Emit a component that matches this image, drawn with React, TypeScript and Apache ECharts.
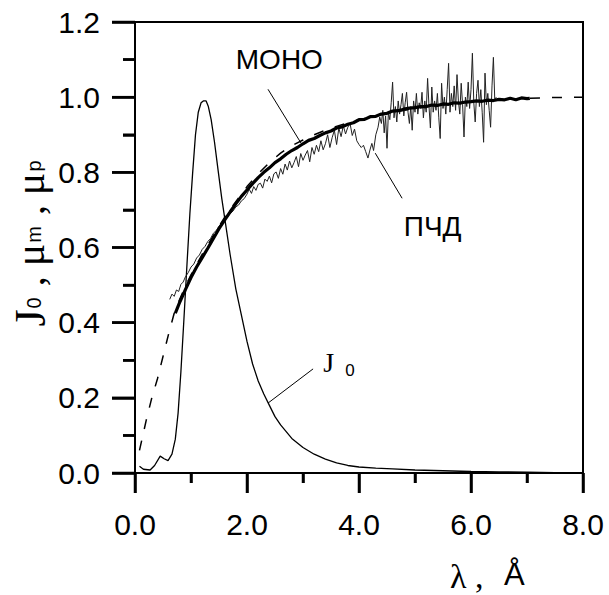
import React, { useEffect, useRef } from "react";
import * as echarts from "echarts";

// ---- Data ----
const xTickLabels = ["0.0", "2.0", "4.0", "6.0", "8.0"];
const yTickLabels = ["0.0", "0.2", "0.4", "0.6", "0.8", "1.0", "1.2"];
const xTickValues = [0, 1, 2, 3, 4, 5, 6, 7, 8];
const yTickValues = [0, 0.1, 0.2, 0.3, 0.4, 0.5, 0.6, 0.7, 0.8, 0.9, 1.0, 1.1, 1.2];

// J0 spectrum
const j0X = [0.08, 0.15, 0.27, 0.35, 0.45, 0.52, 0.59, 0.66, 0.72, 0.77, 0.82, 0.87, 0.93, 0.98, 1.03, 1.08, 1.13, 1.18, 1.22, 1.27, 1.31, 1.36, 1.42, 1.48, 1.55, 1.62, 1.7, 1.8, 1.9, 2.0, 2.1, 2.2, 2.3, 2.4, 2.5, 2.6, 2.7, 2.8, 3.0, 3.2, 3.4, 3.6, 3.8, 4.0, 4.3, 4.6, 5.0, 5.5, 6.0, 6.5, 7.0, 7.5, 8.0];
const j0Y = [0.018, 0.01, 0.008, 0.02, 0.045, 0.038, 0.033, 0.05, 0.09, 0.16, 0.27, 0.4, 0.56, 0.69, 0.8, 0.9, 0.96, 0.985, 0.99, 0.99, 0.975, 0.94, 0.88, 0.81, 0.73, 0.66, 0.58, 0.49, 0.42, 0.35, 0.29, 0.245, 0.21, 0.18, 0.15, 0.128, 0.11, 0.092, 0.068, 0.05, 0.037, 0.027, 0.02, 0.016, 0.013, 0.011, 0.008, 0.006, 0.004, 0.003, 0.002, 0.001, 0.001];

// theoretical mu (dashed)
const muX = [0.08, 0.2, 0.3, 0.4, 0.5, 0.6, 0.7, 0.8, 0.9, 1.0, 1.2, 1.4, 1.6, 1.8, 2.0, 2.2, 2.4, 2.6, 2.8, 3.0, 3.2, 3.5, 4.0, 4.5, 5.0, 5.5, 6.0, 6.5, 7.0, 7.5, 8.0];
const muY = [0.06, 0.14, 0.2, 0.25, 0.31, 0.37, 0.425, 0.463, 0.497, 0.527, 0.582, 0.632, 0.68, 0.722, 0.762, 0.796, 0.826, 0.851, 0.871, 0.886, 0.9, 0.918, 0.94, 0.957, 0.97, 0.98, 0.988, 0.994, 0.997, 0.999, 1.0];

// MONO (thick)
const monoX = [0.72, 0.76, 0.8, 0.9, 1.0, 1.1, 1.2, 1.3, 1.4, 1.5, 1.6, 1.7, 1.8, 1.9, 2.0, 2.1, 2.2, 2.3, 2.4, 2.5, 2.6, 2.7, 2.8, 2.9, 3.0, 3.1, 3.2, 3.3, 3.4, 3.5, 3.6, 3.7, 3.8, 3.9, 4.0, 4.1, 4.2, 4.3, 4.4, 4.5, 4.6, 4.7, 4.8, 4.9, 5.0, 5.1, 5.2, 5.3, 5.4, 5.5, 5.6, 5.7, 5.8, 5.9, 6.0, 6.1, 6.2, 6.3, 6.4, 6.5, 6.6, 6.7, 6.8, 6.9, 7.0, 7.05];
const monoY = [0.425, 0.44, 0.455, 0.488, 0.52, 0.548, 0.573, 0.598, 0.624, 0.65, 0.673, 0.695, 0.716, 0.736, 0.753, 0.77, 0.786, 0.8, 0.812, 0.826, 0.836, 0.848, 0.858, 0.866, 0.876, 0.885, 0.89, 0.898, 0.905, 0.91, 0.918, 0.921, 0.928, 0.932, 0.94, 0.941, 0.948, 0.949, 0.955, 0.957, 0.963, 0.964, 0.968, 0.971, 0.972, 0.975, 0.975, 0.979, 0.978, 0.982, 0.981, 0.985, 0.984, 0.987, 0.988, 0.99, 0.989, 0.992, 0.991, 0.994, 0.993, 0.997, 0.993, 0.998, 0.996, 0.997];

// ПЧД (thin noisy)
const pchdX = [0.62, 0.66, 0.7, 0.74, 0.78, 0.82, 0.86, 0.9, 0.95, 1.0, 1.05, 1.1, 1.15, 1.2, 1.25, 1.3, 1.35, 1.4, 1.45, 1.5, 1.55, 1.6, 1.65, 1.7, 1.75, 1.8, 1.85, 1.9, 1.95,
  2.0, 2.04, 2.08, 2.12, 2.16, 2.2, 2.24, 2.28, 2.32, 2.36, 2.4, 2.44, 2.48, 2.52, 2.56, 2.6, 2.64, 2.68, 2.72, 2.76, 2.8, 2.84, 2.88, 2.92, 2.96, 3.0, 3.04, 3.08, 3.12, 3.16, 3.2, 3.24, 3.28, 3.32, 3.36, 3.4, 3.44, 3.48, 3.52, 3.56, 3.6, 3.64, 3.68, 3.72, 3.76, 3.8, 3.84, 3.88, 3.92, 3.96, 4.0, 4.04, 4.08, 4.12, 4.16, 4.2, 4.23, 4.26, 4.3, 4.34, 4.37,
  4.4, 4.425, 4.45, 4.475, 4.5, 4.525, 4.55, 4.575, 4.6, 4.625, 4.65, 4.675, 4.7, 4.725, 4.75, 4.775, 4.8, 4.825, 4.85, 4.875, 4.9, 4.925, 4.95, 4.975, 5.0, 5.025, 5.05, 5.075, 5.1, 5.125, 5.15, 5.175, 5.2, 5.225, 5.25, 5.275, 5.3, 5.325, 5.35, 5.375, 5.4, 5.425, 5.45, 5.475, 5.5, 5.525, 5.55, 5.575, 5.6, 5.625, 5.65, 5.675, 5.7, 5.725, 5.75, 5.775, 5.8, 5.825, 5.85, 5.875, 5.9, 5.925, 5.95, 5.975, 6.0, 6.025, 6.05, 6.075, 6.1, 6.125, 6.15, 6.175, 6.2, 6.225, 6.25, 6.275, 6.3, 6.325, 6.35, 6.375, 6.4, 6.425, 6.45];
const pchdY = [0.462, 0.476, 0.47, 0.487, 0.483, 0.502, 0.508, 0.522, 0.533, 0.548, 0.556, 0.572, 0.58, 0.595, 0.603, 0.616, 0.624, 0.638, 0.645, 0.657, 0.664, 0.672, 0.681, 0.69, 0.697, 0.708, 0.713, 0.724, 0.73,
  0.742, 0.755, 0.744, 0.762, 0.752, 0.768, 0.771, 0.758, 0.782, 0.776, 0.79, 0.772, 0.796, 0.801, 0.784, 0.81, 0.795, 0.822, 0.806, 0.83, 0.812, 0.826, 0.842, 0.815, 0.85, 0.832, 0.846, 0.858, 0.828, 0.866, 0.848, 0.872, 0.855, 0.884, 0.86, 0.876, 0.9, 0.866, 0.892, 0.912, 0.874, 0.918, 0.895, 0.924, 0.902, 0.92, 0.93, 0.898, 0.915, 0.884, 0.874, 0.866, 0.872, 0.855, 0.838, 0.862, 0.877, 0.858, 0.9, 0.92, 0.947,
  0.93, 0.965, 0.905, 0.95, 0.864, 0.96, 0.94, 0.985, 1.04, 0.945, 0.975, 0.934, 0.99, 0.955, 0.98, 1.01, 0.95, 0.985, 1.013, 0.96, 0.93, 0.975, 0.912, 0.99, 0.96, 1.01, 0.955, 0.985, 0.97, 1.013, 0.945, 0.99, 0.96, 1.05, 0.975, 0.918, 1.027, 0.96, 0.99, 0.965, 1.01, 0.945, 0.89, 1.037, 0.97, 1.0, 0.955, 1.02, 1.09, 0.96, 1.01, 0.975, 1.03, 0.965, 1.06, 0.99, 0.955, 1.037, 0.98, 0.894, 1.0, 0.975, 1.04, 0.97, 1.02, 1.117, 0.985, 0.934, 1.01, 1.045, 0.975, 1.02, 0.96, 0.88, 1.064, 0.98, 1.01, 0.965, 0.92, 1.03, 1.106, 0.99, 1.0];

const pairs = (xs: number[], ys: number[]) => xs.map((x, i) => [x, ys[i]]);

const SANS = "'Liberation Sans', Arial, Helvetica, sans-serif";
const SERIF = "'Liberation Serif', 'Times New Roman', serif";

export default function App() {
  const ref = useRef<HTMLDivElement>(null);
  useEffect(() => {
    if (!ref.current) return;
    const chart = echarts.init(ref.current, undefined, { renderer: "svg" });
    chart.setOption({
      animation: false,
      backgroundColor: "#fff",
      grid: { left: 135, right: 26, top: 22, bottom: 122, show: true, borderColor: "#000", borderWidth: 2 },
      xAxis: {
        type: "value",
        min: 0, max: 8, interval: 2,
        splitLine: { show: false },
        axisLine: { show: true, lineStyle: { color: "#000", width: 2 } },
        axisTick: { show: true, length: 20, lineStyle: { color: "#000", width: 2.5 } },
        minorTick: { show: true, splitNumber: 2, length: 10, lineStyle: { color: "#000", width: 2.5 } },
        axisLabel: {
          margin: 36, fontSize: 30, fontFamily: SANS, color: "#000",
          formatter: (v: number) => xTickLabels[Math.round(v / 2)] ?? "",
        },
      },
      yAxis: {
        type: "value",
        min: 0, max: 1.2, interval: 0.2,
        splitLine: { show: false },
        axisLine: { show: true, lineStyle: { color: "#000", width: 2 } },
        axisTick: { show: true, length: 23, lineStyle: { color: "#000", width: 2.5 } },
        minorTick: { show: true, splitNumber: 2, length: 12, lineStyle: { color: "#000", width: 2.5 } },
        axisLabel: {
          margin: 35, fontSize: 30, fontFamily: SANS, color: "#000",
          formatter: (v: number) => yTickLabels[Math.round(v / 0.2)] ?? "",
        },
      },
      series: [
        { type: "line", name: "J0", data: pairs(j0X, j0Y), showSymbol: false, smooth: false, lineStyle: { color: "#000", width: 1.3 }, z: 3 },
        { type: "line", name: "mu", data: pairs(muX, muY), showSymbol: false, lineStyle: { color: "#000", width: 1.5, type: [10, 12] }, z: 2 },
        { type: "line", name: "ПЧД", data: pairs(pchdX, pchdY), showSymbol: false, lineStyle: { color: "#222", width: 1 }, z: 4 },
        { type: "line", name: "МОНО", data: pairs(monoX, monoY), showSymbol: false, lineStyle: { color: "#000", width: 3.2 }, z: 5 },
      ],
    });

    const p = (x: number, y: number) => chart.convertToPixel({ xAxisIndex: 0, yAxisIndex: 0 }, [x, y]) as number[];
    const seg = (x1: number, y1: number, x2: number, y2: number, w: number) =>
      ({ type: "line", shape: { x1, y1, x2, y2 }, style: { stroke: "#000", lineWidth: w }, z: 10 });
    const leader = (a: number[], b: number[]) => {
      const s = p(a[0], a[1]);
      const e = p(b[0], b[1]);
      return seg(s[0], s[1], e[0], e[1], 1);
    };
    // outward ticks on both axes, positioned through the axis scales
    const origin = p(0, 0);
    const xTickMarks = xTickValues.map((v) => {
      const q = p(v, 0);
      const len = v % 2 === 0 ? 20 : 10;
      return seg(q[0], origin[1], q[0], origin[1] + len, 2.5);
    });
    const yTickMarks = yTickValues.map((v, i) => {
      const q = p(0, v);
      const len = i % 2 === 0 ? 23 : 12;
      return seg(origin[0] - len, q[1], origin[0], q[1], 2.5);
    });

    const monoLbl = p(1.8, 1.1);
    const pchdLbl = p(4.8, 0.656);
    const j0Lbl = p(3.36, 0.294);
    chart.setOption({
      graphic: [
        ...xTickMarks,
        ...yTickMarks,
        leader([2.375, 1.021], [2.964, 0.878]),
        leader([4.77, 0.731], [4.29, 0.851]),
        leader([2.375, 0.186], [3.18, 0.277]),
        { type: "text", x: monoLbl[0], y: monoLbl[1], z: 10, style: { text: "МОНО", fontSize: 28, fontFamily: SANS, fill: "#000", align: "left", verticalAlign: "middle" } },
        { type: "text", x: pchdLbl[0], y: pchdLbl[1], z: 10, style: { text: "ПЧД", fontSize: 28, fontFamily: SANS, fill: "#000", align: "left", verticalAlign: "middle" } },
        { type: "text", x: j0Lbl[0], y: j0Lbl[1], z: 10, style: { text: "J", fontSize: 28, fontFamily: SERIF, fill: "#000", align: "left", verticalAlign: "middle" } },
        { type: "text", x: j0Lbl[0] + 22, y: j0Lbl[1] + 8, z: 10, style: { text: "0", fontSize: 17, fontFamily: SANS, fill: "#000", align: "left", verticalAlign: "middle" } },
        { type: "text", x: 450, y: 576, z: 10, style: { text: "λ ,", fontSize: 34, fontFamily: SERIF, fill: "#000", align: "left", verticalAlign: "middle" } },
        { type: "text", x: 504, y: 574, z: 10, style: { text: "Å", fontSize: 31, fontFamily: SANS, fill: "#000", align: "left", verticalAlign: "middle" } },
        {
          type: "text", x: 30, y: 243, rotation: Math.PI / 2, z: 10,
          style: {
            text: "{j|J}{s|0}{c| , }{m|μ}{s|m}{c| , }{m|μ}{s|p}",
            fill: "#000", align: "center", verticalAlign: "middle",
            rich: {
              j: { fontSize: 44, fontFamily: SERIF, fill: "#000", verticalAlign: "middle" },
              m: { fontSize: 42, fontFamily: SERIF, fill: "#000", verticalAlign: "middle" },
              c: { fontSize: 40, fontFamily: SERIF, fill: "#000", verticalAlign: "middle" },
              s: { fontSize: 20, fontFamily: SANS, fill: "#000", verticalAlign: "middle", padding: [8, 1, 0, 1] },
            },
          },
        },
      ],
    });
    return () => chart.dispose();
  }, []);
  return <div ref={ref} style={{ position: "absolute", left: 0, top: 0, width: 609, height: 595 }} />;
}
